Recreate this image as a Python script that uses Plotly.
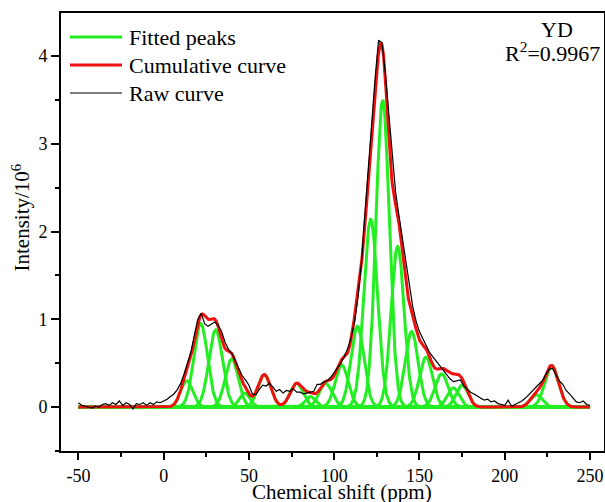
import numpy as np
import plotly.graph_objects as go

# fitted Gaussian components (centre ppm, height x1e6, sigma ppm)
peak_center = [13.5, 21.7, 30.5, 39.9, 47.5, 59.0, 78.0, 86.0, 95.0, 104.4, 113.6,
               121.4, 128.4, 137.2, 145.4, 153.8, 163.0, 169.8, 175.0, 218.6, 227.5]
peak_height = [0.30, 0.95, 0.88, 0.55, 0.16, 0.37, 0.27, 0.12, 0.27, 0.48, 0.92,
               2.14, 3.50, 1.83, 0.86, 0.57, 0.38, 0.22, 0.25, 0.14, 0.47]
peak_sigma = [3.5, 4.0, 4.0, 3.8, 3.0, 3.8, 3.8, 3.0, 3.8, 3.8, 3.8,
              4.0, 3.9, 3.8, 3.8, 3.8, 3.8, 3.5, 3.5, 3.5, 4.0]

# raw spectrum, read every 2 ppm from -50 to 250
raw_shift = np.arange(-50, 251, 2)
raw_intensity = [
    0.05, 0.02, 0.01, 0.00, -0.01, 0.01, 0.00, 0.03, 0.04, 0.02,
    0.05, 0.03, 0.07, 0.02, 0.05, 0.03, -0.02, 0.04, 0.03, 0.05,
    0.02, 0.05, 0.03, 0.06, 0.05, 0.07, 0.09, 0.12, 0.15, 0.20,
    0.27, 0.38, 0.50, 0.63, 0.82, 1.00, 1.07, 0.95, 0.92, 0.95,
    0.97, 0.93, 0.86, 0.74, 0.66, 0.61, 0.52, 0.44, 0.36, 0.31,
    0.25, 0.15, 0.14, 0.20, 0.25, 0.24, 0.27, 0.23, 0.18, 0.20,
    0.16, 0.19, 0.18, 0.21, 0.17, 0.17, 0.15, 0.16, 0.17, 0.18,
    0.26, 0.26, 0.29, 0.30, 0.34, 0.40, 0.45, 0.50, 0.58, 0.67,
    0.80, 0.98, 1.26, 1.65, 2.20, 2.75, 3.25, 3.75, 4.18, 4.15,
    3.80, 3.32, 2.85, 2.45, 2.18, 1.92, 1.65, 1.38, 1.15, 0.98,
    0.86, 0.78, 0.70, 0.62, 0.57, 0.52, 0.47, 0.42, 0.38, 0.32,
    0.29, 0.30, 0.31, 0.24, 0.20, 0.17, 0.15, 0.12, 0.10, 0.08,
    0.09, 0.06, 0.07, 0.04, 0.03, 0.02, 0.08, 0.01, 0.03, 0.05,
    0.07, 0.10, 0.14, 0.18, 0.22, 0.26, 0.30, 0.37, 0.43, 0.44,
    0.37, 0.30, 0.26, 0.19, 0.15, 0.10, 0.06, 0.05, 0.07, 0.03,
    0.02,
]

x_ticks = [-50, 0, 50, 100, 150, 200, 250]
x_ticktext = ["-50", "0", "50", "100", "150", "200", "250"]

legend_names = ["Fitted peaks", "Cumulative curve", "Raw curve"]

x = np.linspace(-50, 250, 1201)
peaks = [h * np.exp(-(x - c) ** 2 / (2 * s ** 2))
         for c, h, s in zip(peak_center, peak_height, peak_sigma)]
cumulative = np.sum(peaks, axis=0)

GREEN = "#22ee22"
RED = "#f01010"
SERIF = "Liberation Serif, Times New Roman, serif"

fig = go.Figure()
for p in peaks:
    fig.add_trace(go.Scatter(x=x, y=p, mode="lines", line=dict(color=GREEN, width=3),
                             name=legend_names[0], showlegend=False))
fig.add_trace(go.Scatter(x=x, y=cumulative, mode="lines", line=dict(color=RED, width=3),
                         name=legend_names[1], showlegend=False))
fig.add_trace(go.Scatter(x=raw_shift, y=raw_intensity, mode="lines",
                         line=dict(color="black", width=1.2), name=legend_names[2],
                         showlegend=False))


def px(col):
    # pixel column -> paper x (plot area spans columns 61..604)
    return (col - 61) / 543


def py(row):
    # pixel row -> paper y (plot area spans rows 13..451)
    return (451 - row) / 438


# hand-placed legend, Origin style
shapes = []
annotations = []
for name, color, width, row in zip(legend_names, [GREEN, RED, "black"], [3, 3, 1.2], [37, 65, 93]):
    shapes.append(dict(type="line", xref="paper", yref="paper", x0=px(70), x1=px(122),
                       y0=py(row), y1=py(row), line=dict(color=color, width=width)))
    annotations.append(dict(text=name, xref="paper", yref="paper", x=px(127), y=py(row),
                            xanchor="left", yanchor="middle", showarrow=False,
                            font=dict(family=SERIF, size=22)))

annotations += [
    dict(text="Chemical shift (ppm)", xref="paper", yref="paper", x=px(342), y=py(478),
         xanchor="center", yanchor="top", showarrow=False, font=dict(family=SERIF, size=21)),
    dict(text="Intensity/10<sup>6</sup>", xref="paper", yref="paper", x=px(21.5),
         y=py(218), xanchor="center", yanchor="middle", textangle=-90,
         showarrow=False, font=dict(family=SERIF, size=21)),
    dict(text="YD", xref="paper", yref="paper", x=px(557), y=py(30),
         xanchor="center", yanchor="middle", showarrow=False, font=dict(family=SERIF, size=22)),
    dict(text="R<sup>2</sup>=0.9967", xref="paper", yref="paper", x=px(552),
         y=py(52), xanchor="center", yanchor="middle", showarrow=False,
         font=dict(family=SERIF, size=22)),
]

tickfont = dict(family=SERIF, size=18, color="black")

fig.update_layout(
    width=605, height=502,
    margin=dict(l=61, r=1, t=13, b=51),
    paper_bgcolor="white", plot_bgcolor="white",
    font=dict(family=SERIF, size=18, color="black"),
    showlegend=False,
    xaxis=dict(range=[-60.2, 258.2], tickvals=x_ticks, ticktext=x_ticktext,
               ticks="outside", ticklen=7, tickwidth=1.5, tickcolor="black",
               minor=dict(tickvals=[-25, 25, 75, 125, 175, 225], ticks="outside",
                          ticklen=4, tickwidth=1.5, tickcolor="black"),
               showline=True, linewidth=1.8, linecolor="black", mirror=True,
               showgrid=False, zeroline=False, tickfont=tickfont, automargin=False),
    yaxis=dict(range=[-0.5, 4.49], tick0=0, dtick=1,
               ticks="outside", ticklen=8, tickwidth=1.5, tickcolor="black",
               minor=dict(dtick=0.5, tick0=0, ticks="outside", ticklen=4,
                          tickwidth=1.5, tickcolor="black"),
               showline=True, linewidth=1.8, linecolor="black", mirror=True,
               showgrid=False, zeroline=False, tickfont=tickfont, automargin=False),
    shapes=shapes,
    annotations=annotations,
)

fig.write_html("out.html", config={"displayModeBar": False},
               post_script="document.body.style.margin='0';")
